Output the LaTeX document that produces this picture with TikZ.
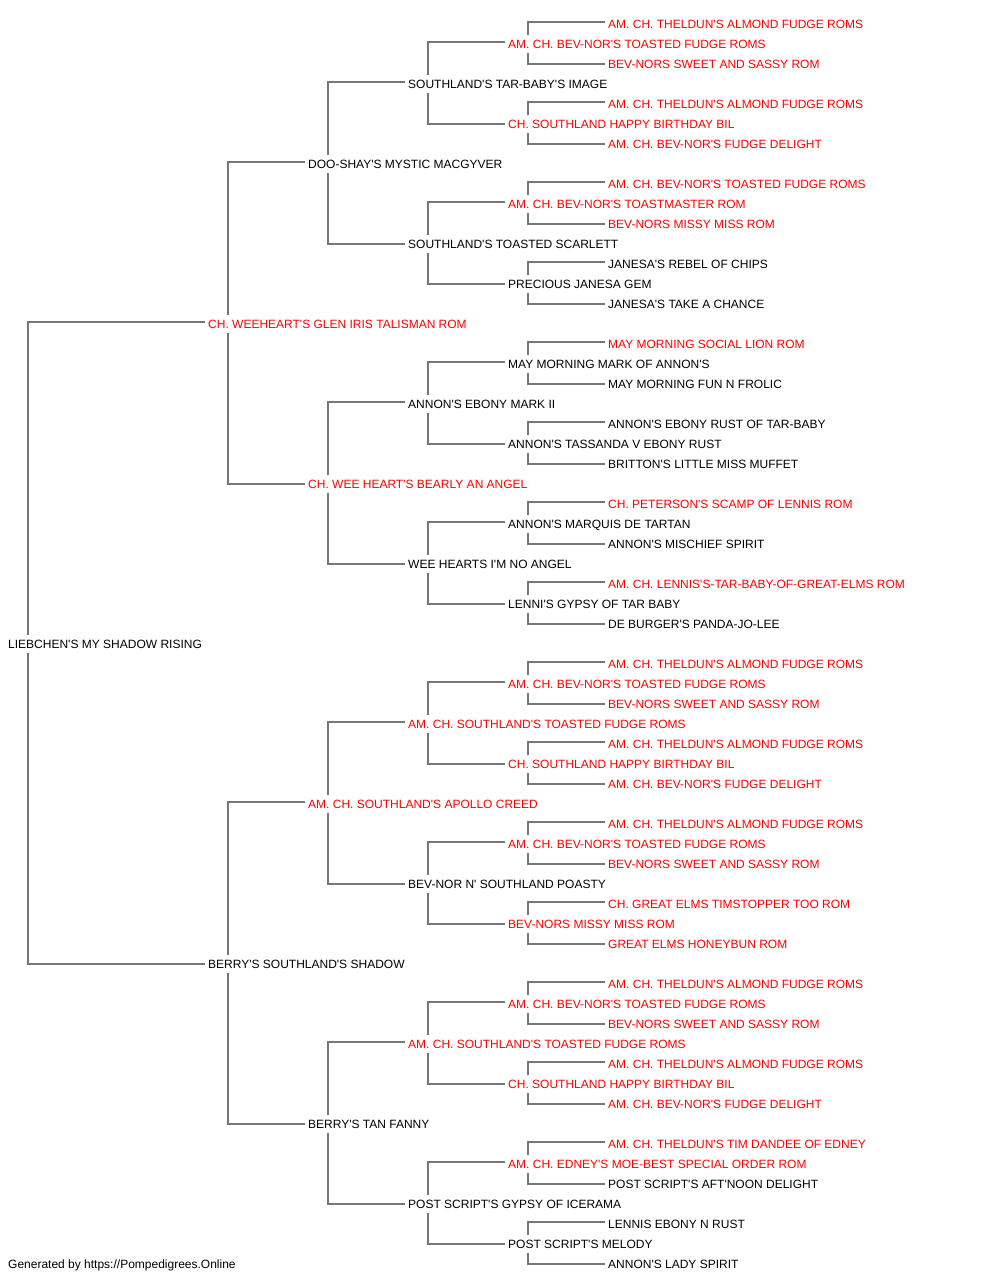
\documentclass[tikz,border=0pt]{standalone}
\usepackage{fontspec}
\setmainfont{Liberation Sans}[Ligatures=TeXOff]
\usetikzlibrary{calc}
\definecolor{linegray}{RGB}{119,119,119}
\definecolor{redname}{RGB}{255,0,0}
\tikzset{
  dog/.style={anchor=base west,inner sep=0pt,font=\fontsize{12}{14}\selectfont,text=black},
  champ/.style={dog,text=redname},
  link/.style={draw=linegray,line width=1.3pt}
}
\begin{document}
\begin{tikzpicture}[x=1pt,y=-1pt]
\useasboundingbox (0,0) rectangle (1000,1280);
% generation 5 (x=608), generation 4 (x=508), generation 3 (x=408), generation 2 (x=308), generation 1 (x=208), root (x=8)
\node[champ] (n0)  at (608,28)   {AM. CH. THELDUN'S ALMOND FUDGE ROMS};
\node[champ] (n1)  at (508,48)   {AM. CH. BEV-NOR'S TOASTED FUDGE ROMS};
\node[champ] (n2)  at (608,68)   {BEV-NORS SWEET AND SASSY ROM};
\node[dog]   (n3)  at (408,88)   {SOUTHLAND'S TAR-BABY'S IMAGE};
\node[champ] (n4)  at (608,108)  {AM. CH. THELDUN'S ALMOND FUDGE ROMS};
\node[champ] (n5)  at (508,128)  {CH. SOUTHLAND HAPPY BIRTHDAY BIL};
\node[champ] (n6)  at (608,148)  {AM. CH. BEV-NOR'S FUDGE DELIGHT};
\node[dog]   (n7)  at (308,168)  {DOO-SHAY'S MYSTIC MACGYVER};
\node[champ] (n8)  at (608,188)  {AM. CH. BEV-NOR'S TOASTED FUDGE ROMS};
\node[champ] (n9)  at (508,208)  {AM. CH. BEV-NOR'S TOASTMASTER ROM};
\node[champ] (n10) at (608,228)  {BEV-NORS MISSY MISS ROM};
\node[dog]   (n11) at (408,248)  {SOUTHLAND'S TOASTED SCARLETT};
\node[dog]   (n12) at (608,268)  {JANESA'S REBEL OF CHIPS};
\node[dog]   (n13) at (508,288)  {PRECIOUS JANESA GEM};
\node[dog]   (n14) at (608,308)  {JANESA'S TAKE A CHANCE};
\node[champ] (n15) at (208,328)  {CH. WEEHEART'S GLEN IRIS TALISMAN ROM};
\node[champ] (n16) at (608,348)  {MAY MORNING SOCIAL LION ROM};
\node[dog]   (n17) at (508,368)  {MAY MORNING MARK OF ANNON'S};
\node[dog]   (n18) at (608,388)  {MAY MORNING FUN N FROLIC};
\node[dog]   (n19) at (408,408)  {ANNON'S EBONY MARK II};
\node[dog]   (n20) at (608,428)  {ANNON'S EBONY RUST OF TAR-BABY};
\node[dog]   (n21) at (508,448)  {ANNON'S TASSANDA V EBONY RUST};
\node[dog]   (n22) at (608,468)  {BRITTON'S LITTLE MISS MUFFET};
\node[champ] (n23) at (308,488)  {CH. WEE HEART'S BEARLY AN ANGEL};
\node[champ] (n24) at (608,508)  {CH. PETERSON'S SCAMP OF LENNIS ROM};
\node[dog]   (n25) at (508,528)  {ANNON'S MARQUIS DE TARTAN};
\node[dog]   (n26) at (608,548)  {ANNON'S MISCHIEF SPIRIT};
\node[dog]   (n27) at (408,568)  {WEE HEARTS I'M NO ANGEL};
\node[champ] (n28) at (608,588)  {AM. CH. LENNIS'S-TAR-BABY-OF-GREAT-ELMS ROM};
\node[dog]   (n29) at (508,608)  {LENNI'S GYPSY OF TAR BABY};
\node[dog]   (n30) at (608,628)  {DE BURGER'S PANDA-JO-LEE};
\node[dog]   (n31) at (8,648)    {LIEBCHEN'S MY SHADOW RISING};
\node[champ] (n32) at (608,668)  {AM. CH. THELDUN'S ALMOND FUDGE ROMS};
\node[champ] (n33) at (508,688)  {AM. CH. BEV-NOR'S TOASTED FUDGE ROMS};
\node[champ] (n34) at (608,708)  {BEV-NORS SWEET AND SASSY ROM};
\node[champ] (n35) at (408,728)  {AM. CH. SOUTHLAND'S TOASTED FUDGE ROMS};
\node[champ] (n36) at (608,748)  {AM. CH. THELDUN'S ALMOND FUDGE ROMS};
\node[champ] (n37) at (508,768)  {CH. SOUTHLAND HAPPY BIRTHDAY BIL};
\node[champ] (n38) at (608,788)  {AM. CH. BEV-NOR'S FUDGE DELIGHT};
\node[champ] (n39) at (308,808)  {AM. CH. SOUTHLAND'S APOLLO CREED};
\node[champ] (n40) at (608,828)  {AM. CH. THELDUN'S ALMOND FUDGE ROMS};
\node[champ] (n41) at (508,848)  {AM. CH. BEV-NOR'S TOASTED FUDGE ROMS};
\node[champ] (n42) at (608,868)  {BEV-NORS SWEET AND SASSY ROM};
\node[dog]   (n43) at (408,888)  {BEV-NOR N' SOUTHLAND POASTY};
\node[champ] (n44) at (608,908)  {CH. GREAT ELMS TIMSTOPPER TOO ROM};
\node[champ] (n45) at (508,928)  {BEV-NORS MISSY MISS ROM};
\node[champ] (n46) at (608,948)  {GREAT ELMS HONEYBUN ROM};
\node[dog]   (n47) at (208,968)  {BERRY'S SOUTHLAND'S SHADOW};
\node[champ] (n48) at (608,988)  {AM. CH. THELDUN'S ALMOND FUDGE ROMS};
\node[champ] (n49) at (508,1008) {AM. CH. BEV-NOR'S TOASTED FUDGE ROMS};
\node[champ] (n50) at (608,1028) {BEV-NORS SWEET AND SASSY ROM};
\node[champ] (n51) at (408,1048) {AM. CH. SOUTHLAND'S TOASTED FUDGE ROMS};
\node[champ] (n52) at (608,1068) {AM. CH. THELDUN'S ALMOND FUDGE ROMS};
\node[champ] (n53) at (508,1088) {CH. SOUTHLAND HAPPY BIRTHDAY BIL};
\node[champ] (n54) at (608,1108) {AM. CH. BEV-NOR'S FUDGE DELIGHT};
\node[dog]   (n55) at (308,1128) {BERRY'S TAN FANNY};
\node[champ] (n56) at (608,1148) {AM. CH. THELDUN'S TIM DANDEE OF EDNEY};
\node[champ] (n57) at (508,1168) {AM. CH. EDNEY'S MOE-BEST SPECIAL ORDER ROM};
\node[dog]   (n58) at (608,1188) {POST SCRIPT'S AFT'NOON DELIGHT};
\node[dog]   (n59) at (408,1208) {POST SCRIPT'S GYPSY OF ICERAMA};
\node[dog]   (n60) at (608,1228) {LENNIS EBONY N RUST};
\node[dog]   (n61) at (508,1248) {POST SCRIPT'S MELODY};
\node[dog]   (n62) at (608,1268) {ANNON'S LADY SPIRIT};
\node[dog]   (footer) at (8,1268) {Generated by https://Pompedigrees.Online};
% connectors: parent / sire / dam
\foreach \p/\s/\d in {31/15/47,
  15/7/23, 47/39/55,
  7/3/11, 23/19/27, 39/35/43, 55/51/59,
  3/1/5, 11/9/13, 19/17/21, 27/25/29, 35/33/37, 43/41/45, 51/49/53, 59/57/61,
  1/0/2, 5/4/6, 9/8/10, 13/12/14, 17/16/18, 21/20/22, 25/24/26, 29/28/30,
  33/32/34, 37/36/38, 41/40/42, 45/44/46, 49/48/50, 53/52/54, 57/56/58, 61/60/62}{
  \draw[link] ($(n\p.base west)+(20,-13)$) |- ($(n\s.base west)+(-3,-6)$);
  \draw[link] ($(n\p.base west)+(20,5)$) |- ($(n\d.base west)+(-3,-4)$);
}
\end{tikzpicture}
\end{document}
